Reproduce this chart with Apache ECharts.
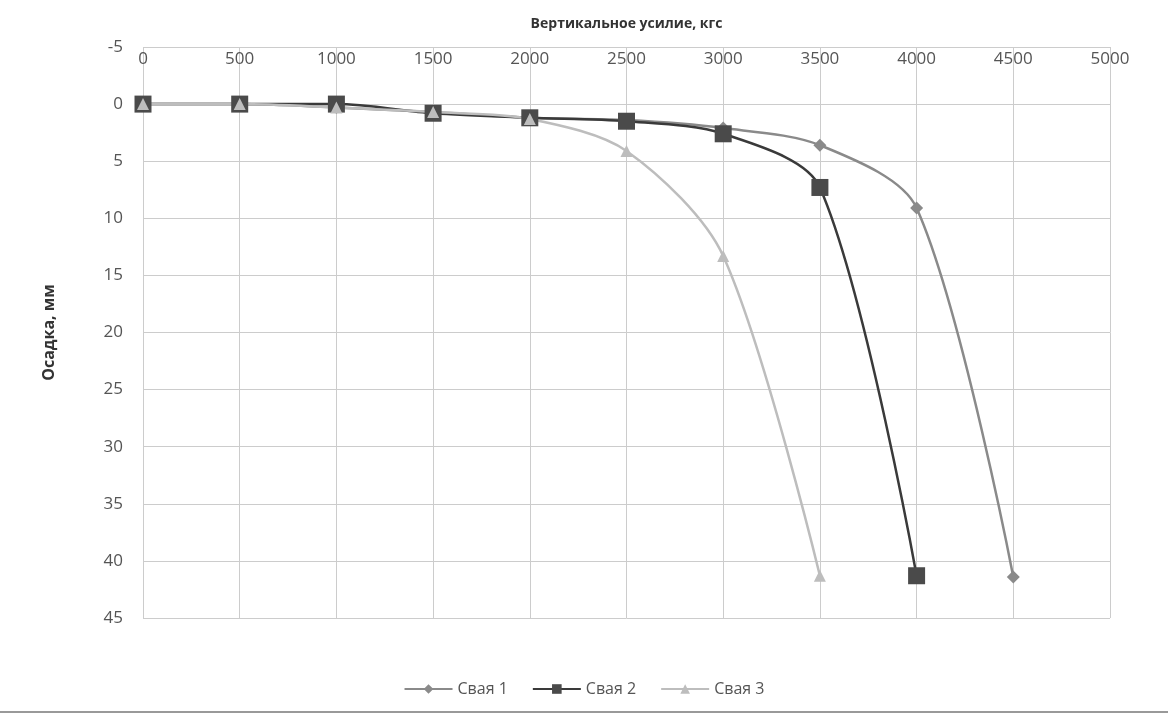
<!DOCTYPE html>
<html><head><meta charset="utf-8">
<script src="https://cdn.jsdelivr.net/npm/echarts@6/dist/echarts.min.js"></script>
<style>html,body{margin:0;padding:0;background:#fff}#c{width:1168px;height:724px}</style>
</head><body><div id="c"></div>
<script>
const loads = [0, 500, 1000, 1500, 2000, 2500, 3000, 3500, 4000, 4500];
const pile1 = [0, 0, 0.3, 0.7, 1.2, 1.4, 2.1, 3.6, 9.1, 41.4];
const pile2 = [0, 0, 0, 0.8, 1.2, 1.5, 2.6, 7.3, 41.3];
const pile3 = [0, 0, 0.3, 0.7, 1.3, 4.1, 13.3, 41.3];
const names = ['Свая 1', 'Свая 2', 'Свая 3'];
const xTitle = 'Вертикальное усилие, кгс';
const yTitle = 'Осадка, мм';

function pairs(vals){ return vals.map((v,i)=>[loads[i], v]); }

const chart = echarts.init(document.getElementById('c'));
const font = '"Open Sans", "DejaVu Sans", sans-serif';
chart.setOption({
  backgroundColor: '#fff',
  animation: false,
  textStyle: {fontFamily: font},
  grid: {left: 143, right: 58, top: 47, bottom: 106},
  legend: {
    bottom: 22, left: 'center', itemWidth: 48, itemHeight: 12, itemGap: 24,
    textStyle: {fontSize: 16, color: '#555', fontFamily: font},
    data: names
  },
  graphic: [{
    type: 'line', shape: {x1: 0, y1: 712, x2: 1168, y2: 712},
    style: {stroke: '#999', lineWidth: 2}
  }],
  xAxis: {
    type: 'value', position: 'top', min: 0, max: 5000, interval: 500,
    name: xTitle, nameLocation: 'middle', nameGap: 16,
    nameTextStyle: {fontSize: 14, fontWeight: 'bold', color: '#333'},
    axisLine: {show: false}, axisTick: {show: false},
    axisLabel: {inside: true, margin: 4, fontSize: 17, color: '#555', verticalAlign: 'top',
                formatter: v => String(v)},
    splitLine: {show: true, lineStyle: {color: '#ccc', width: 1}}
  },
  yAxis: {
    type: 'value', inverse: true, min: -5, max: 45, interval: 5,
    name: yTitle, nameLocation: 'middle', nameGap: 86,
    nameTextStyle: {fontSize: 16, fontWeight: 'bold', color: '#333'},
    axisLine: {show: false}, axisTick: {show: false},
    axisLabel: {fontSize: 17, color: '#555', margin: 20},
    splitLine: {show: true, lineStyle: {color: '#ccc', width: 1}}
  },
  series: [
    {name: names[0], type: 'line', data: pairs(pile1), smooth: 0.3,
     symbol: 'diamond', symbolSize: 13, color: '#8a8a8a',
     lineStyle: {width: 2.5, color: '#8a8a8a'}, itemStyle: {color: '#8a8a8a'}},
    {name: names[1], type: 'line', data: pairs(pile2), smooth: 0.3,
     symbol: 'rect', symbolSize: 17, color: '#3a3a3a',
     lineStyle: {width: 2.5, color: '#3a3a3a'}, itemStyle: {color: '#4a4a4a'}},
    {name: names[2], type: 'line', data: pairs(pile3), smooth: 0.3,
     symbol: 'triangle', symbolSize: 12, color: '#bdbdbd',
     lineStyle: {width: 2.5, color: '#bdbdbd'}, itemStyle: {color: '#bdbdbd'}}
  ]
});
</script></body></html>
